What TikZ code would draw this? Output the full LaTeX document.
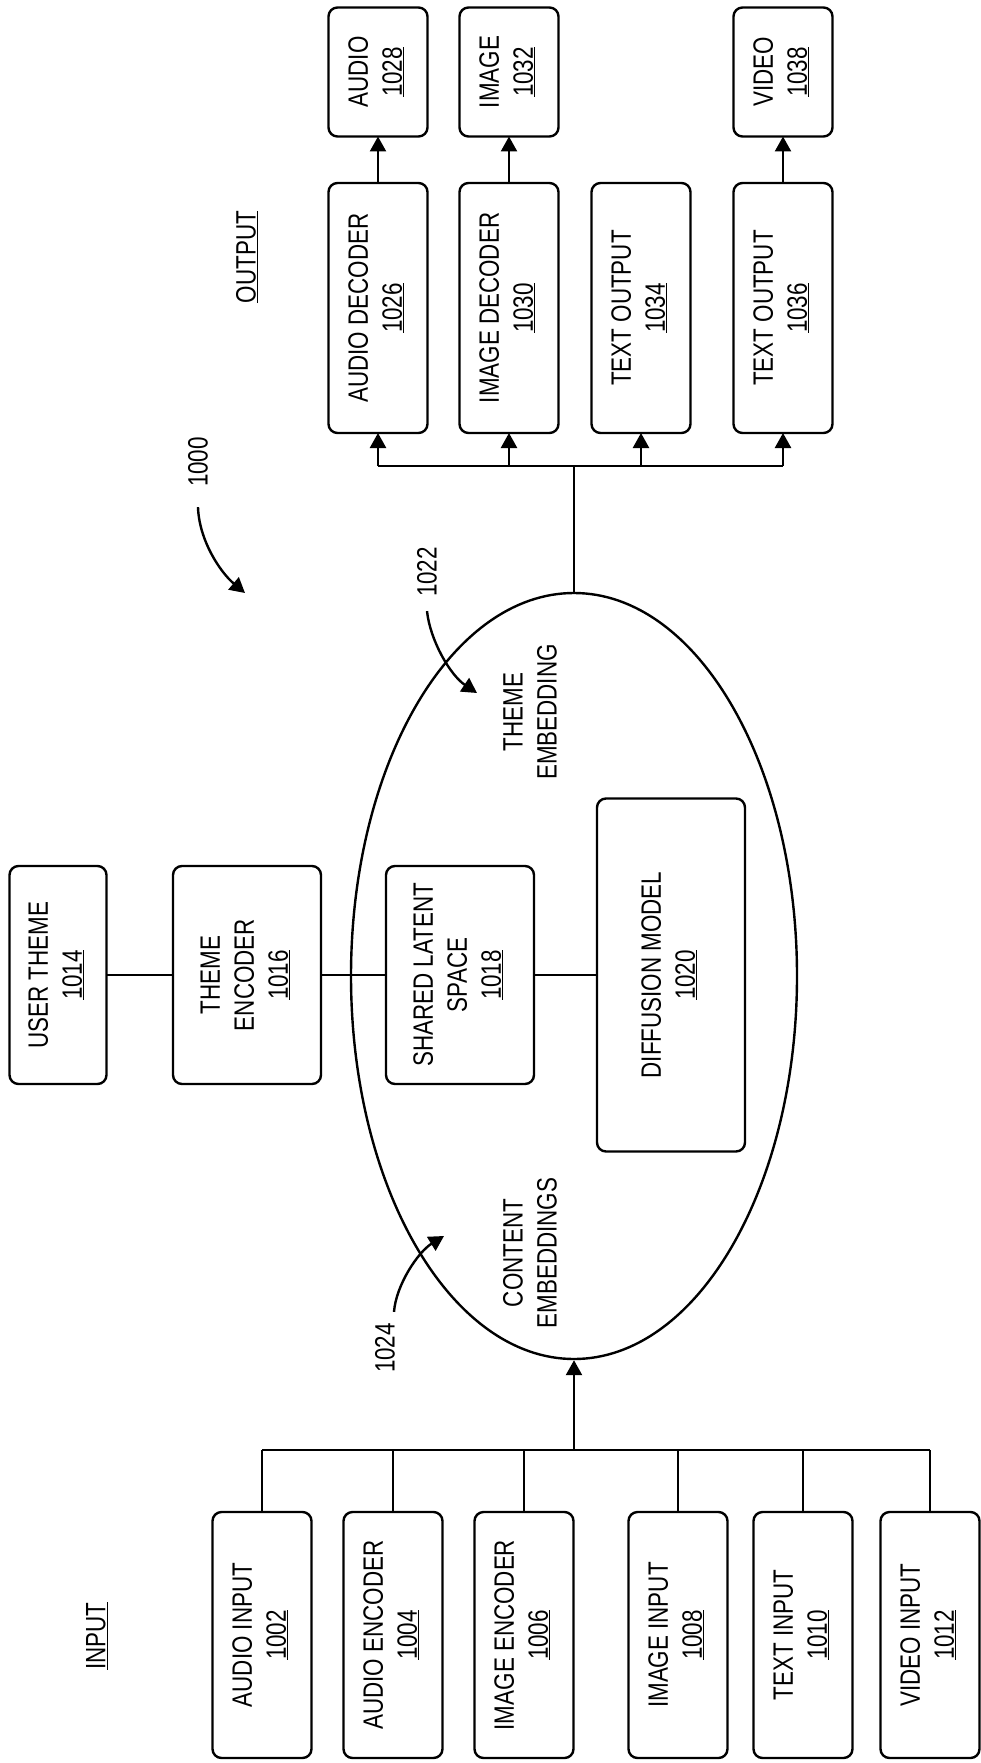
\documentclass[tikz,border=0pt]{standalone}
\usepackage{fontspec}
\usepackage{tkz-graph}
\usetikzlibrary{arrows.meta,shapes.geometric}
\newfontfamily\boxfont[FakeStretch=0.8]{Liberation Sans}
\NewDocumentCommand\BoxLabel{mm}{\rotatebox{90}{\begin{tabular}{@{}c@{}}#1\\\underline{#2}\end{tabular}}}

\begin{document}
\begin{tikzpicture}[x=1pt,y=-1pt]
\useasboundingbox (0,0) rectangle (980,1763);
\GraphInit[vstyle=Normal]
\tikzset{BoxStyle/.style ={shape=rectangle, draw, rounded corners=9pt, line width=2.4pt, inner sep=0pt, font={\boxfont\fontsize{28}{34}\selectfont}}}
\tikzset{TextStyle/.style ={rotate=90, align=center, inner sep=0pt, font={\boxfont\fontsize{28}{34}\selectfont}}}
\tikzset{WireStyle/.style ={line width=2.4pt}}
\tikzset{ArrowStyle/.style ={WireStyle, -{Triangle[length=15pt,width=16pt]}}}
\tikzset{LabelStyle/.style ={inner sep=0pt, draw=none, fill=none}}
% input side
\tikzset{VertexStyle/.style ={BoxStyle, minimum width=99, minimum height=246}}
\Vertex[x=262, y=1635, L={\BoxLabel{AUDIO INPUT}{1002}}]{AudioIn}
\Vertex[x=393, y=1635, L={\BoxLabel{AUDIO ENCODER}{1004}}]{AudioEnc}
\Vertex[x=524, y=1635, L={\BoxLabel{IMAGE ENCODER}{1006}}]{ImageEnc}
\Vertex[x=678, y=1635, L={\BoxLabel{IMAGE INPUT}{1008}}]{ImageIn}
\Vertex[x=803, y=1635, L={\BoxLabel{TEXT INPUT}{1010}}]{TextIn}
\Vertex[x=930, y=1635, L={\BoxLabel{VIDEO INPUT}{1012}}]{VideoIn}
% theme row
\tikzset{VertexStyle/.style ={BoxStyle, minimum width=97, minimum height=218}}
\Vertex[x=58, y=975, L={\BoxLabel{USER THEME}{1014}}]{UserTheme}
\tikzset{VertexStyle/.style ={BoxStyle, minimum width=148, minimum height=218}}
\Vertex[x=247, y=975, L={\BoxLabel{THEME\\ENCODER}{1016}}]{ThemeEnc}
\Vertex[x=460, y=975, L={\BoxLabel{SHARED LATENT\\SPACE}{1018}}]{Latent}
\tikzset{VertexStyle/.style ={BoxStyle, minimum width=148, minimum height=353}}
\Vertex[x=671, y=975, L={\BoxLabel{DIFFUSION MODEL}{1020}}]{Diffusion}
% output side
\tikzset{VertexStyle/.style ={BoxStyle, minimum width=99, minimum height=250}}
\Vertex[x=378, y=308, L={\BoxLabel{AUDIO DECODER}{1026}}]{AudioDec}
\Vertex[x=509, y=308, L={\BoxLabel{IMAGE DECODER}{1030}}]{ImageDec}
\Vertex[x=641, y=308, L={\BoxLabel{TEXT OUTPUT}{1034}}]{TextOutA}
\Vertex[x=783, y=308, L={\BoxLabel{TEXT OUTPUT}{1036}}]{TextOutB}
\tikzset{VertexStyle/.style ={BoxStyle, minimum width=99, minimum height=129}}
\Vertex[x=378, y=72, L={\BoxLabel{AUDIO}{1028}}]{AudioOut}
\Vertex[x=509, y=72, L={\BoxLabel{IMAGE}{1032}}]{ImageOut}
\Vertex[x=783, y=72, L={\BoxLabel{VIDEO}{1038}}]{VideoOut}
% latent space and labels
\node[draw, ellipse, line width=2.4pt, inner sep=0pt, minimum width=446, minimum height=766] (Space) at (574,976) {};
\node[TextStyle] (ThemeTxt) at (530,712) {THEME\\EMBEDDING};
\node[TextStyle] (ContentTxt) at (530,1253) {CONTENT\\EMBEDDINGS};
\node[TextStyle] (OutputTxt) at (247,257) {\underline{OUTPUT}};
\node[TextStyle] (InputTxt) at (97,1636) {\underline{INPUT}};
\node[TextStyle] (L1000) at (198,462) {1000};
\node[TextStyle] (L1022) at (427,572) {1022};
\node[TextStyle] (L1024) at (385,1348) {1024};
\coordinate (T1000) at (245,593);
\coordinate (T1022) at (477,693);
\coordinate (T1024) at (444,1236);
\coordinate (InHub) at (574,1450);
\coordinate (OutHub) at (574,466);
% edges
\tikzset{EdgeStyle/.style ={WireStyle}}
\Edge(UserTheme)(ThemeEnc)
\Edge(ThemeEnc)(Latent)
\Edge(Latent)(Diffusion)
\tikzset{EdgeStyle/.style ={ArrowStyle}}
\Edge(AudioDec)(AudioOut)
\Edge(ImageDec)(ImageOut)
\Edge(TextOutB)(VideoOut)
% buses
\foreach \n in {AudioIn,AudioEnc,ImageEnc,ImageIn,TextIn,VideoIn}
  \draw[WireStyle] (\n.north) -- (\n.north |- InHub);
\draw[WireStyle] (AudioIn.north |- InHub) -- (VideoIn.north |- InHub);
\draw[ArrowStyle] (InHub) -- (Space.south);
\draw[WireStyle] (Space.north) -- (OutHub);
\draw[WireStyle] (AudioDec.south |- OutHub) -- (TextOutB.south |- OutHub);
\foreach \n in {AudioDec,ImageDec,TextOutA,TextOutB}
  \draw[ArrowStyle] (\n.south |- OutHub) -- (\n.south);
% reference arrows
\draw[ArrowStyle] ([yshift=-20pt]L1000.west) .. controls (199,540) and (220,572) .. (T1000);
\draw[ArrowStyle] ([yshift=-14pt]L1022.west) .. controls (430,640) and (450,675) .. (T1022);
\draw[ArrowStyle] ([xshift=9pt,yshift=11pt]L1024.east) .. controls (396,1285) and (418,1252) .. (T1024);
\end{tikzpicture}
\end{document}
